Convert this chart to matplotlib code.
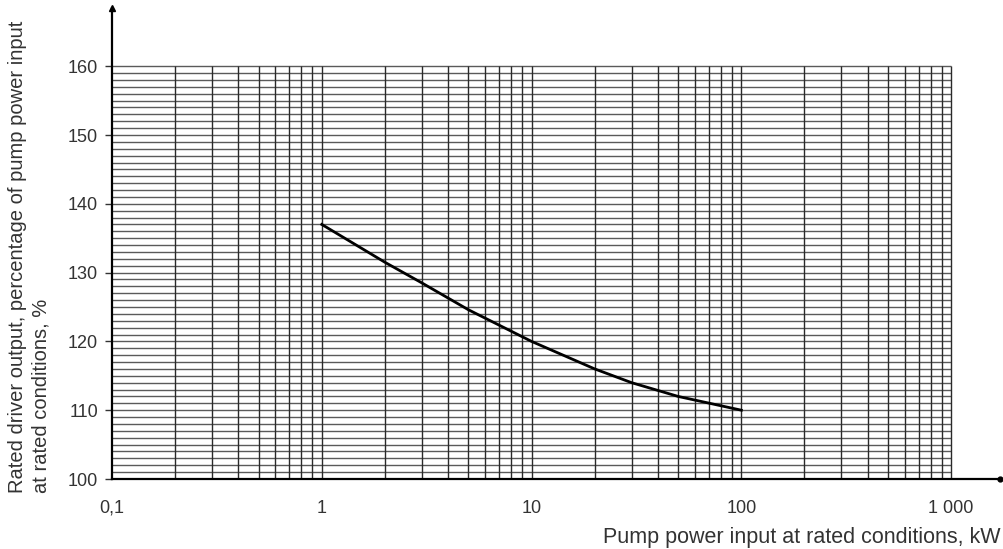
import matplotlib
matplotlib.use("Agg")
import matplotlib.pyplot as plt
import numpy as np

plt.rcParams["font.family"] = ["Liberation Sans", "DejaVu Sans"]

# curve
power_kw = [1, 2, 3, 5, 10, 20, 30, 50, 100]
rated_pct = [137, 131.5, 128.5, 124.6, 120, 116, 114, 112, 110]

x_ticks = [0.1, 1, 10, 100, 1000]
x_labels = ["0,1", "1", "10", "100", "1 000"]
y_ticks = [100, 110, 120, 130, 140, 150, 160]

fig = plt.figure(figsize=(10.04, 5.49), dpi=100)
ax = fig.add_axes([112 / 1004, 1 - 479 / 549, (1000 - 112) / 1004, (479 - 8) / 549])
ax.set_xscale("log")
ax.set_xlim(0.1, 10 ** 3.233)
ax.set_ylim(100, 100 + 471 / 6.88)

# grid paper
hy = np.arange(101, 161)
ax.hlines(hy, 0.1, 1000, color="#5a5a5a", lw=1.0, zorder=1)
vx = [m * 10.0 ** e for e in range(-1, 3) for m in range(2, 10)] + [1, 10, 100, 1000]
vx = sorted(set(vx))
ax.vlines(vx, 100, 160, color="#2a2a2a", lw=1.0, zorder=1)

ax.plot(power_kw, rated_pct, color="black", lw=2.0, zorder=3)

for s in ["top", "right"]:
    ax.spines[s].set_visible(False)
ax.spines["left"].set_linewidth(1.6)
ax.spines["bottom"].set_linewidth(1.6)
ax.plot([0.1], [ax.get_ylim()[1]], marker="^", color="black", ms=5, clip_on=False, zorder=4)
ax.plot([ax.get_xlim()[1]], [100], marker="o", color="black", ms=3.5, clip_on=False, zorder=4)

ax.set_yticks(y_ticks)
ax.set_yticklabels([str(v) for v in y_ticks])
ax.tick_params(axis="y", length=5, width=1, pad=5, labelsize=13, colors="#333333")
ax.set_xticks(x_ticks)
ax.set_xticklabels(x_labels)
ax.xaxis.set_minor_locator(matplotlib.ticker.NullLocator())
ax.tick_params(axis="x", length=0, pad=15, labelsize=13, colors="#333333")

fig.text(0.997, 1 - 537 / 549, "Pump power input at rated conditions, kW", ha="right",
         va="center", fontsize=15.5, color="#333333")
fig.text(29 / 1004, 1 - 493 / 549,
         "Rated driver output, percentage of pump power input\nat rated conditions, %",
         rotation=90, ha="center", va="bottom", multialignment="left",
         fontsize=14.5, color="#333333", linespacing=1.3)

fig.savefig("out.png", dpi=100)
